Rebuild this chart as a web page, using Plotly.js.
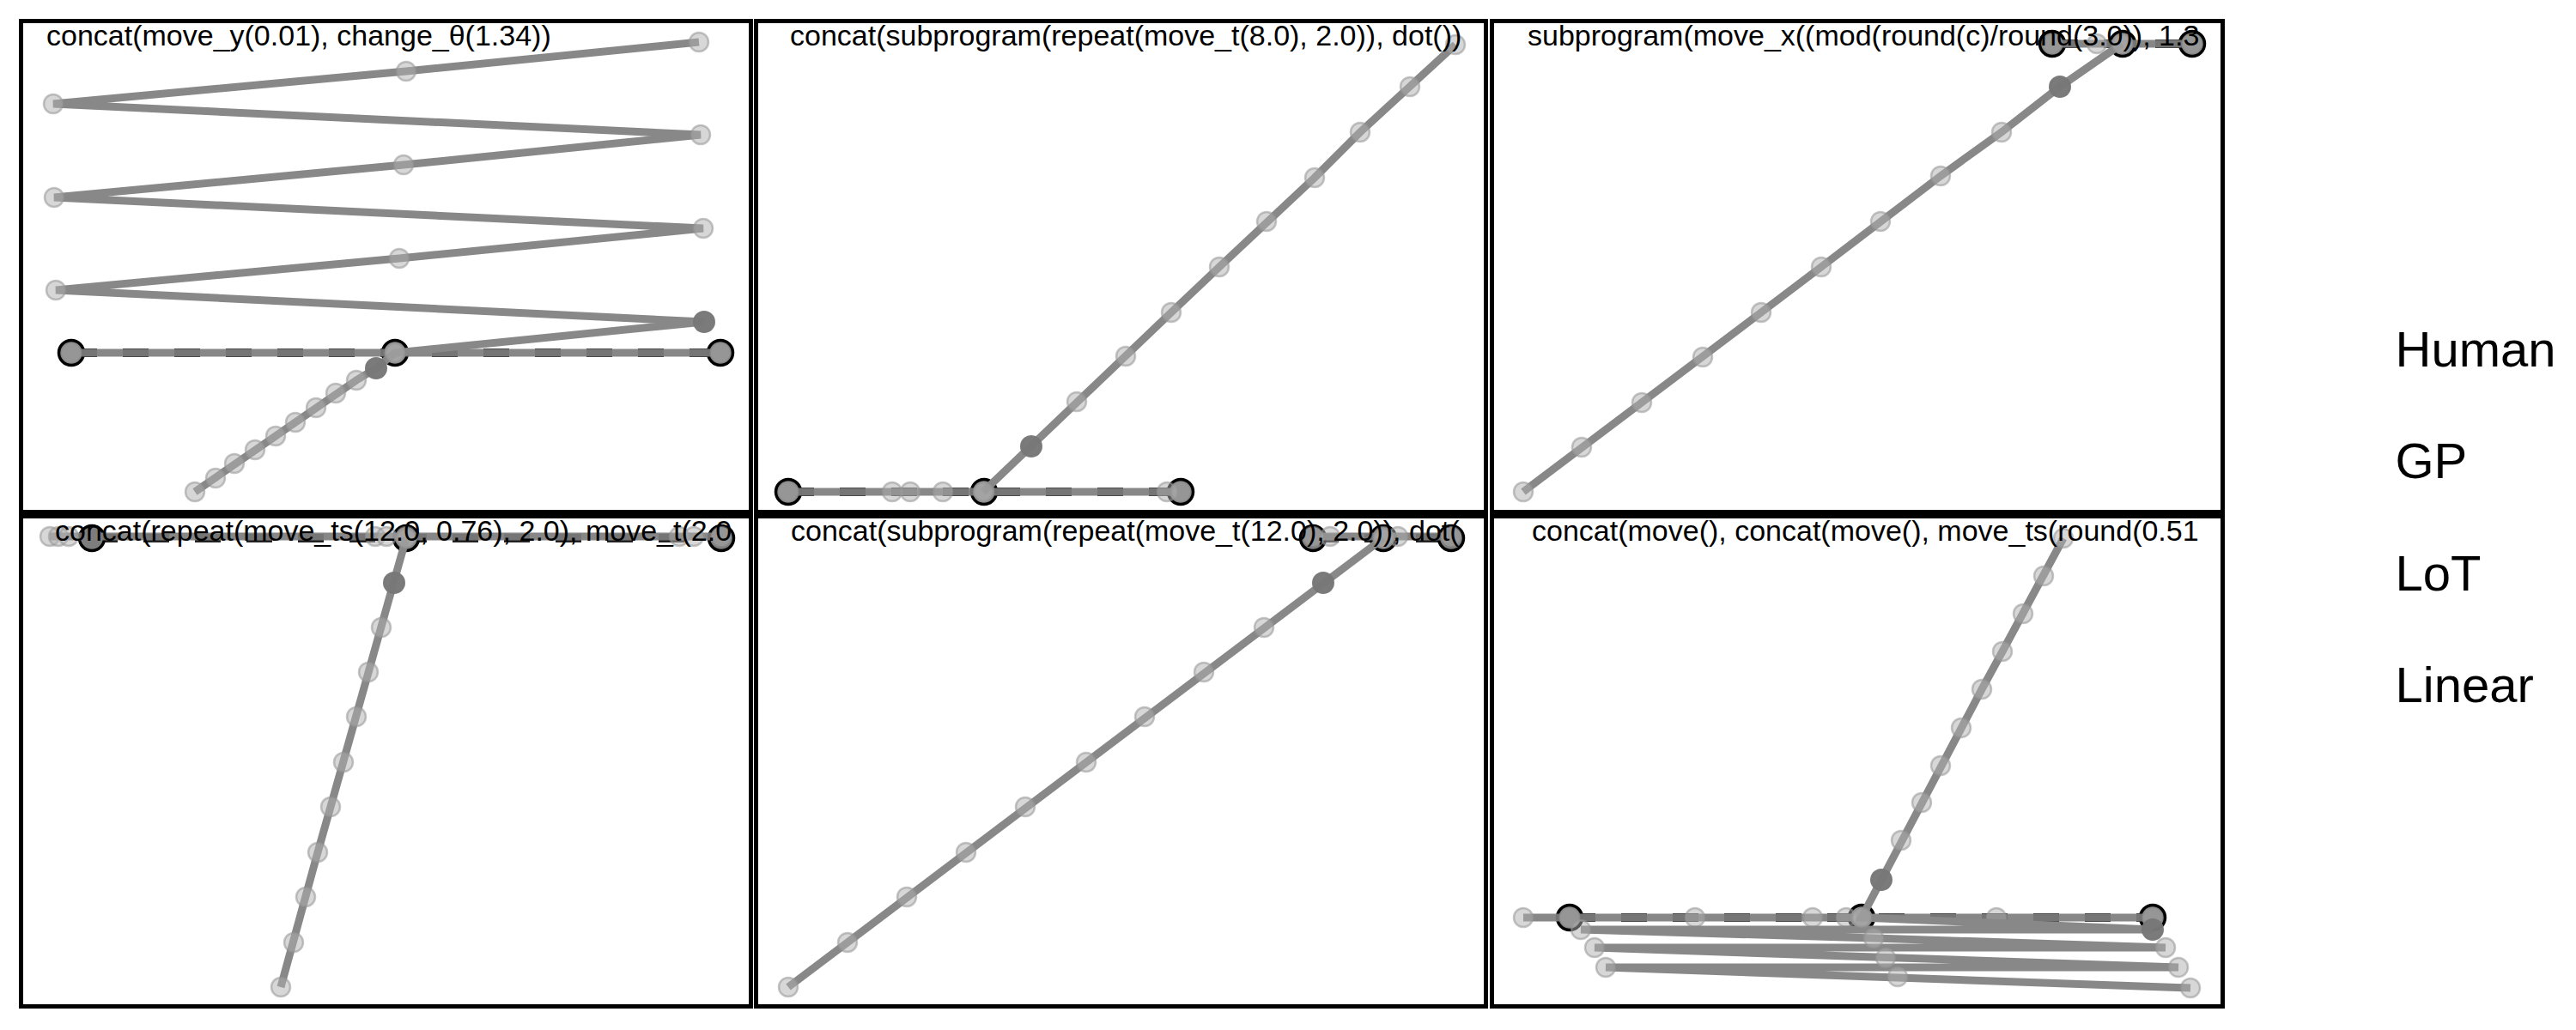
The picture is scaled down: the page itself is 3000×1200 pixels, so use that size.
<!DOCTYPE html>
<html>
<head>
<meta charset="utf-8">
<script src="https://cdn.plot.ly/plotly-3.0.1.min.js"></script>
<style>html,body{margin:0;padding:0;background:#fff;}#chart{width:3000px;height:1200px;}</style>
</head>
<body>
<div id="chart"></div>
<script>
const panelTitles = [
  "concat(move_y(0.01), change_\u03b8(1.34))",
  "concat(subprogram(repeat(move_t(8.0), 2.0)), dot())",
  "subprogram(move_x((mod(round(c)/round(3.0)), 1.3",
  "concat(repeat(move_ts(12.0, 0.76), 2.0), move_t(2.0",
  "concat(subprogram(repeat(move_t(12.0), 2.0)), dot(",
  "concat(move(), concat(move(), move_ts(round(0.51"
];
const legendNames = ["Human", "GP", "LoT", "Linear"];

// Panel 1
const p1StimX = [203,227,249,273,297,320,344,367,391,414,436,796,41,441,795,39,446,792,38,449,790];
const p1StimY = [24,40,57,73,89,105,122,139,154,168,186,222,259,296,331,367,405,440,476,514,548];
const p1CueX = [414,796];
const p1CueY = [168,222];
const p1HumanX = [59,436,815];
const p1HumanY = [186,186,186];
const p1ModelX = [59,436,815];
const p1ModelY = [186,186,186];

// Panel 2
const p2StimX = [815,762,704,651,595,540,484,431,374,321,265];
const p2StimY = [545,496,443,390,339,286,233,182,129,77,24];
const p2CueX = [321];
const p2CueY = [77];
const p2HumanX = [38,266,495];
const p2HumanY = [24,24,24];
const p2ModelX = [38,159,180,218,266,479,495];
const p2ModelY = [24,24,24,24,24,24,24];

// Panel 3
const p3StimX = [37,105,175,246,314,384,453,523,594,662,734];
const p3StimY = [24,76,128,181,233,286,339,392,443,496,546];
const p3CueX = [662];
const p3CueY = [496];
const p3HumanX = [653,735,816];
const p3HumanY = [546,546,546];
const p3ModelX = [653,705,735,816];
const p3ModelY = [546,546,546,546];

// Panel 4
const p4StimX = [303,318,332,346,361,376,391,405,420,435,449];
const p4StimY = [23,75,128,180,233,285,338,390,442,494,546];
const p4CueX = [435];
const p4CueY = [494];
const p4HumanX = [83,449,816];
const p4HumanY = [546,546,546];
const p4ModelX = [34,44,56,413,426,449,767,784,816];
const p4ModelY = [548,548,548,548,548,548,548,548,548];

// Panel 5
const p5StimX = [38,107,176,245,314,385,453,522,592,661,731];
const p5StimY = [23,75,128,180,233,285,338,390,442,494,546];
const p5CueX = [661];
const p5CueY = [494];
const p5HumanX = [649,731,810];
const p5HumanY = [546,546,546];
const p5ModelX = [649,669,731,748,810];
const p5ModelY = [548,548,548,548,548];

// Panel 6
const p6StimX = [666,643,619,595,571,547,523,501,477,454,431,770,104,445,785,120,459,800,133,473,814];
const p6StimY = [546,502,458,414,370,325,281,238,194,148,104,90,90,80,69,69,57,46,46,35,22];
const p6CueX = [454,770];
const p6CueY = [148,90];
const p6HumanX = [91,431,770];
const p6HumanY = [104,104,104];
const p6ModelX = [37,91,237,374,413,431,588,770];
const p6ModelY = [104,104,104,104,104,104,104,104];

// ---- Layout configuration (positions / styles) ----
const colDomains = [[27,872],[883,1728],[1740,2586]];   // px
const colRefLeft = [24,880,1737];
const rowDomains = [[27,594],[604,1170]];                // px from top
const rowRefBottom = [597,1173];
const rowRefTop = [24,601];
const titleOffsetX = [30,40,42,40,41,47];
const titleOffsetY = 20;
const W = 3000, H = 1200;

const panels = [
  {stim:[p1StimX,p1StimY], cue:[p1CueX,p1CueY], human:[p1HumanX,p1HumanY], model:[p1ModelX,p1ModelY]},
  {stim:[p2StimX,p2StimY], cue:[p2CueX,p2CueY], human:[p2HumanX,p2HumanY], model:[p2ModelX,p2ModelY]},
  {stim:[p3StimX,p3StimY], cue:[p3CueX,p3CueY], human:[p3HumanX,p3HumanY], model:[p3ModelX,p3ModelY]},
  {stim:[p4StimX,p4StimY], cue:[p4CueX,p4CueY], human:[p4HumanX,p4HumanY], model:[p4ModelX,p4ModelY]},
  {stim:[p5StimX,p5StimY], cue:[p5CueX,p5CueY], human:[p5HumanX,p5HumanY], model:[p5ModelX,p5ModelY]},
  {stim:[p6StimX,p6StimY], cue:[p6CueX,p6CueY], human:[p6HumanX,p6HumanY], model:[p6ModelX,p6ModelY]}
];

const FONT = "Liberation Sans, Arial, Helvetica, sans-serif";
const traces = [];
const layout = {
  width: W, height: H,
  margin: {l:0, r:0, t:0, b:0},
  paper_bgcolor: "#ffffff",
  plot_bgcolor: "#ffffff",
  showlegend: true,
  legend: {
    x: 0.9165, y: 0.5, xanchor: "left", yanchor: "middle",
    font: {family: FONT, size: 58, color: "#000"},
    traceorder: "grouped", tracegroupgap: 52,
    bgcolor: "rgba(0,0,0,0)", borderwidth: 0, itemwidth: 30
  },
  font: {family: FONT}
};

panels.forEach((p, i) => {
  const r = Math.floor(i / 3), c = i % 3;
  const n = i + 1;
  const xa = n === 1 ? "x" : "x" + n;
  const ya = n === 1 ? "y" : "y" + n;
  const xkey = n === 1 ? "xaxis" : "xaxis" + n;
  const ykey = n === 1 ? "yaxis" : "yaxis" + n;
  const cd = colDomains[c], rd = rowDomains[r];
  const xr = [cd[0] - colRefLeft[c], cd[1] - colRefLeft[c]];
  const yr = [rowRefBottom[r] - rd[1], rowRefBottom[r] - rd[0]];
  const axisCommon = {showgrid:false, zeroline:false, showticklabels:false, ticks:"",
    showline:true, mirror:true, linecolor:"#000", linewidth:5, fixedrange:true};
  layout[xkey] = Object.assign({}, axisCommon, {domain:[cd[0]/W, cd[1]/W], range:xr, anchor:ya});
  layout[ykey] = Object.assign({}, axisCommon, {domain:[1 - rd[1]/H, 1 - rd[0]/H], range:yr, anchor:xa});

  // Human predictions (dashed line, outlined markers)
  traces.push({type:"scatter", mode:"lines+markers", x:p.human[0], y:p.human[1], xaxis:xa, yaxis:ya,
    showlegend:false, hoverinfo:"skip",
    line:{color:"#222", width:10, dash:"dash"},
    marker:{size:29, color:"#7d7d7d", line:{color:"#000", width:3.5}}});
  // Model predictions on the same row
  traces.push({type:"scatter", mode:"lines+markers", x:p.model[0], y:p.model[1], xaxis:xa, yaxis:ya,
    showlegend:false, hoverinfo:"skip",
    line:{color:"rgba(125,125,125,0.92)", width:9},
    marker:{size:22, color:"rgba(175,175,175,0.5)", line:{color:"rgba(150,150,150,0.55)", width:2.5}}});
  // Stimulus trajectory
  traces.push({type:"scatter", mode:"lines+markers", x:p.stim[0], y:p.stim[1], xaxis:xa, yaxis:ya,
    showlegend:false, hoverinfo:"skip",
    line:{color:"#888888", width:9},
    marker:{size:22, color:"rgba(175,175,175,0.5)", line:{color:"rgba(150,150,150,0.55)", width:2.5}}});
  // Highlighted points
  traces.push({type:"scatter", mode:"markers", x:p.cue[0], y:p.cue[1], xaxis:xa, yaxis:ya,
    showlegend:false, hoverinfo:"skip",
    marker:{size:26, color:"rgba(118,118,118,0.95)", line:{width:0}}});
  // Program text (clipped to panel)
  const ty = (rowRefBottom[r] - rowRefTop[r]) - titleOffsetY;
  traces.push({type:"scatter", mode:"text", x:[titleOffsetX[i]], y:[ty], text:[panelTitles[i]],
    xaxis:xa, yaxis:ya, showlegend:false, hoverinfo:"skip", cliponaxis:true,
    textposition:"middle right", textfont:{family:FONT, size:34, color:"#000"}});
});

// Legend entries (text only)
legendNames.forEach((nm, k) => {
  traces.push({type:"scatter", mode:"markers", x:[null], y:[null], name:nm,
    legendgroup:"g" + k, showlegend:true, hoverinfo:"skip",
    marker:{size:1, color:"rgba(0,0,0,0)"}});
});

Plotly.newPlot("chart", traces, layout, {displayModeBar:false, staticPlot:true});
</script>
</body>
</html>
